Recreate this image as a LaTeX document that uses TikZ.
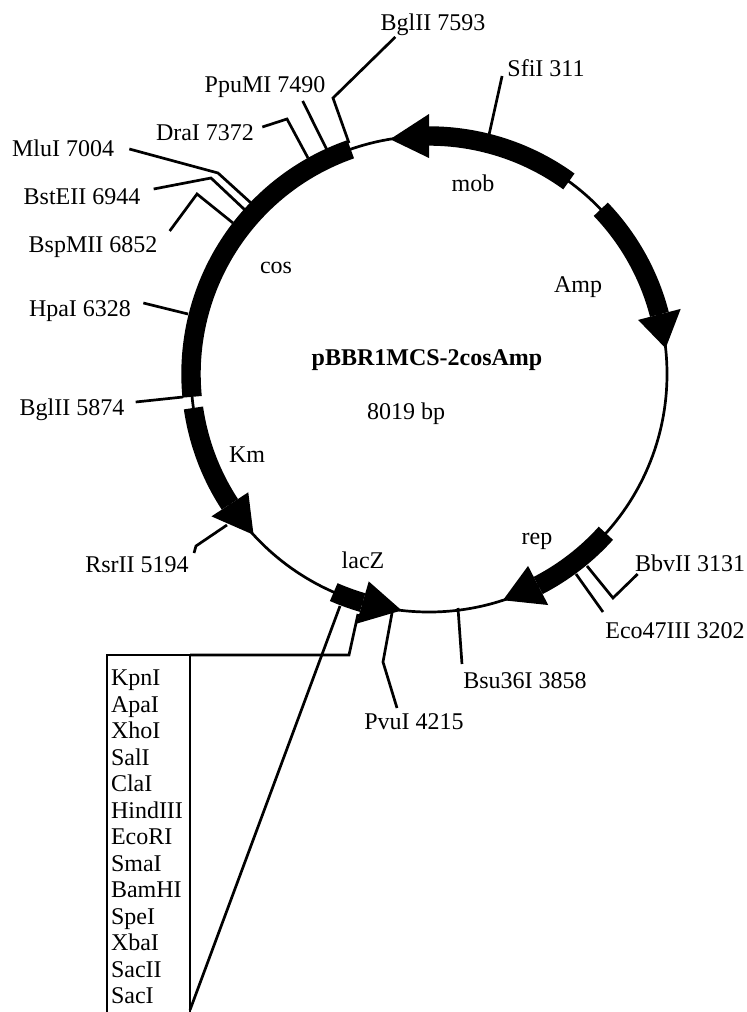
\documentclass[tikz,border=0pt]{standalone}
\usepackage{fontspec}
\setmainfont{Liberation Serif}
\begin{document}
\begin{tikzpicture}[x=.5pt, y=-.5pt, line width=1.35pt, font=\fontsize{12}{13.25}\selectfont, site/.style={inner sep=0pt, anchor=base}, tag/.style={inner sep=0pt, anchor=base}, gene/.style={line width=9.7pt}]
\useasboundingbox (0,0) rectangle (747,1012);
\clip (0,0) rectangle (747,1012);
\begin{scope}[shift={(429,374)}, yscale=-1]
\draw (0,0) circle (238);
\draw[gene] (109.2:238) arc (109.2:185.5:238);
\foreach \from/\base/\tip in {54/90/99.4, 43.8/14.5/6.2, -42/-62.7/-71.9, 188.2/213.2/222.5, 246.4/253.8/263.4} {
  \draw[gene] (\from:238) arc (\from:\base:238);
  \fill (\base:260) -- (\tip:238) -- (\base:216) -- cycle;
}
\end{scope}
\node[inner sep=0pt, font=\fontsize{12}{13.25}\selectfont\bfseries] (title) at (427,360) {pBBR1MCS-2cosAmp};
\node[tag] (size) at (406,419) {8019 bp};
\node[tag] (mob) at (473,191) {mob};
\node[tag] (amp) at (578,292) {Amp};
\node[tag] (rep) at (537,544) {rep};
\node[tag] (lacz) at (363,568) {lacZ};
\node[tag] (km) at (247,462) {Km};
\node[tag] (cos) at (276,273) {cos};
\node[site] (bgl7593) at (433,30) {BglII 7593};
\node[site] (ppu7490) at (265,92) {PpuMI 7490};
\node[site] (dra7372) at (205,140) {DraI 7372};
\node[site] (mlu7004) at (63,156) {MluI 7004};
\node[site] (bst6944) at (82,204) {BstEII 6944};
\node[site] (bsp6852) at (93,252) {BspMII 6852};
\node[site] (hpa6328) at (80,316) {HpaI 6328};
\node[site] (bgl5874) at (72,415) {BglII 5874};
\node[site] (rsr5194) at (137,572) {RsrII 5194};
\node[site] (sfi311) at (546,76) {SfiI 311};
\node[site] (bbv3131) at (690,571) {BbvII 3131};
\node[site] (eco3202) at (675,638) {Eco47III 3202};
\node[site] (bsu3858) at (525,688) {Bsu36I 3858};
\node[site] (pvu4215) at (414,729) {PvuI 4215};
\node[draw, anchor=north west, outer sep=0pt, inner xsep=2pt, inner ysep=0pt, align=left, text width=37.5pt, minimum height=182pt] (mcs) at (107,655) {KpnI\\ApaI\\XhoI\\SalI\\ClaI\\HindIII\\EcoRI\\SmaI\\BamHI\\SpeI\\XbaI\\SacII\\SacI};
\coordinate (bgl7593c) at (349,143);
\coordinate (ppu7490c) at (327,150);
\coordinate (dra7372c) at (308,158);
\coordinate (mlu7004c) at (251,203);
\coordinate (bst6944c) at (245,210);
\coordinate (bsp6852c) at (233,223);
\coordinate (hpa6328c) at (188,314);
\coordinate (bgl5874c) at (183,397);
\coordinate (rsr5194c) at (227,525);
\coordinate (sfi311c) at (489,135);
\coordinate (bbv3131c) at (587,566);
\coordinate (eco3202c) at (576,574);
\coordinate (bsu3858c) at (458,608);
\coordinate (pvu4215c) at (392,613);
\coordinate (mcstop) at (358,614);
\coordinate (mcsbot) at (340,606);
\draw ([xshift=8pt,yshift=-3.5pt]bgl7593.base west) -- (333,98) -- (bgl7593c);
\draw ([xshift=-12pt,yshift=-4.5pt]ppu7490.base east) -- (ppu7490c);
\draw ([xshift=3.5pt,yshift=6.5pt]dra7372.base east) -- (287,119) -- (dra7372c);
\draw ([xshift=7pt,yshift=3.5pt]mlu7004.base east) -- (218,173) -- (mlu7004c);
\draw ([xshift=6pt,yshift=7.5pt]bst6944.base east) -- (211,178) -- (bst6944c);
\draw ([xshift=5.5pt,yshift=10.5pt]bsp6852.base east) -- (197,194) -- (bsp6852c);
\draw ([xshift=5.5pt,yshift=6.5pt]hpa6328.base east) -- (hpa6328c);
\draw ([xshift=5pt,yshift=6.5pt]bgl5874.base east) -- (bgl5874c);
\draw ([xshift=2pt,yshift=9.5pt]rsr5194.base east) -- (196,546) -- (rsr5194c);
\draw ([xshift=-2pt]sfi311.base west) -- (sfi311c);
\draw ([xshift=2pt,yshift=-1.5pt]bbv3131.base west) -- (613,598) -- (bbv3131c);
\draw ([xshift=-.5pt,yshift=13pt]eco3202.base west) -- (eco3202c);
\draw ([yshift=12pt]bsu3858.base west) -- (bsu3858c);
\draw ([xshift=-8.5pt,yshift=10.5pt]pvu4215.base) -- (383,662) -- (pvu4215c);
\draw (mcs.north east) -- (349,655) -- (mcstop);
\draw ([yshift=4.5pt]mcs.south east) -- (mcsbot);
\end{tikzpicture}
\end{document}
